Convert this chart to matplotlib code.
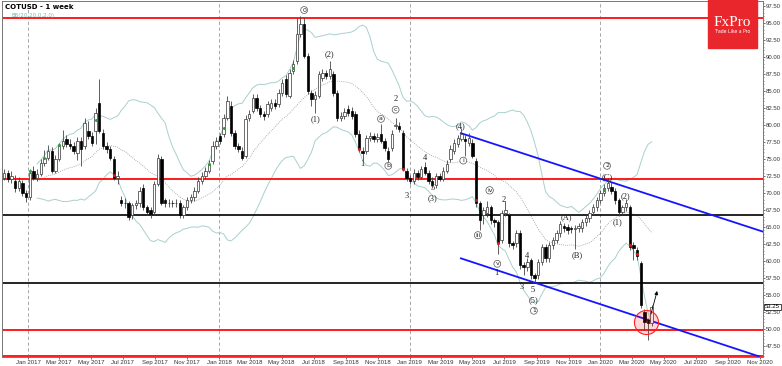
import matplotlib
matplotlib.use("Agg")
import matplotlib.pyplot as plt
import matplotlib.dates as mdates
import matplotlib.transforms as mtransforms
from matplotlib.patches import Rectangle
from matplotlib.ticker import MultipleLocator, FormatStrFormatter
import numpy as np
import pandas as pd

# weekly bars, COTUSD
first_bar = "2016-11-16"

opens = [72.28, 73.01, 72.13, 71.84, 70.67, 71.55, 69.94, 69.35, 73.31, 72.28,
         72.87, 74.48, 75.21, 76.24, 73.31, 75.06, 76.97, 78.00, 77.26, 76.97,
         75.94, 77.71, 76.97, 79.17, 78.44, 79.17, 83.28, 78.88, 76.97, 76.53,
         75.06, 72.28, 68.91, 68.61, 68.47, 66.71, 68.17, 68.47, 70.81, 67.88,
         67.44, 67.15, 71.40, 75.06, 68.91, 68.47, 68.61, 68.47, 68.61, 66.71,
         67.88, 68.91, 69.35, 70.37, 71.84, 72.57, 73.31, 74.77, 76.97, 78.44,
         78.73, 81.08, 82.84, 78.88, 76.97, 76.24, 75.51, 81.08, 82.10, 84.01,
         82.54, 81.66, 81.66, 82.54, 83.28, 83.13, 84.74, 86.80, 84.30, 87.97,
         89.44, 93.39, 94.86, 90.17, 84.74, 83.86, 84.30, 86.94, 87.68, 87.24,
         87.53, 84.74, 81.08, 81.37, 82.40, 82.10, 81.66, 78.73, 76.24, 76.24,
         78.14, 78.44, 78.00, 78.73, 77.71, 76.24, 76.68, 79.90, 79.90, 78.88,
         73.31, 72.28, 71.84, 73.01, 72.43, 73.89, 73.01, 71.84, 71.11, 72.57,
         72.13, 73.31, 75.06, 76.24, 77.26, 78.00, 78.00, 77.41, 77.41, 74.77,
         68.47, 66.71, 67.00, 67.88, 65.97, 65.68, 63.04, 67.00, 66.71, 62.60,
         62.60, 64.07, 59.38, 59.08, 60.11, 57.91, 57.91, 59.82, 62.01, 60.40,
         62.31, 63.04, 64.07, 65.09, 64.95, 64.80, 64.66, 64.80, 64.80, 65.68,
         66.27, 67.15, 67.88, 68.91, 69.94, 70.81, 70.96, 70.37, 68.91, 67.15,
         67.88, 67.88, 62.31, 61.58, 59.67, 52.49, 51.31, 50.87]

highs = [73.5, 73.4, 73.2, 72.6, 72.3, 71.9, 70.4, 73.5, 74.0, 73.6,
         75.0, 76.4, 77.0, 76.8, 75.6, 77.4, 79.2, 78.6, 78.0, 77.5,
         78.2, 78.3, 81.0, 80.6, 79.0, 82.5, 86.8, 79.4, 77.5, 76.9,
         75.5, 73.2, 69.6, 69.2, 68.9, 68.6, 69.0, 70.9, 71.3, 68.3,
         67.9, 71.8, 75.7, 75.5, 69.3, 69.1, 69.0, 69.1, 69.0, 68.3,
         69.4, 69.9, 70.9, 72.3, 73.1, 73.8, 74.9, 77.6, 78.3, 78.9,
         81.6, 84.3, 83.6, 79.3, 77.4, 76.7, 81.5, 82.2, 84.6, 84.5,
         83.0, 82.1, 83.6, 83.8, 83.8, 85.3, 86.8, 87.3, 88.2, 89.6,
         95.7, 96.0, 95.8, 90.6, 85.2, 85.0, 88.0, 88.2, 88.1, 89.4,
         88.0, 85.2, 81.9, 82.5, 82.9, 82.6, 82.1, 79.2, 76.7, 78.6,
         79.0, 78.9, 78.8, 80.2, 78.1, 76.7, 79.2, 81.0, 80.4, 79.3,
         73.7, 72.7, 73.5, 73.4, 74.0, 74.6, 73.4, 72.3, 73.0, 73.0,
         73.8, 74.8, 77.0, 77.9, 78.6, 79.6, 78.5, 78.8, 77.9, 75.2,
         68.9, 68.0, 68.8, 68.3, 66.4, 66.1, 67.5, 68.9, 67.1, 63.0,
         64.5, 64.5, 59.8, 60.5, 60.5, 58.3, 60.3, 62.5, 62.5, 62.8,
         63.5, 64.5, 65.9, 65.6, 65.4, 65.2, 65.3, 65.6, 66.2, 66.7,
         67.5, 68.4, 69.4, 70.4, 71.3, 72.1, 71.6, 70.8, 69.3, 68.3,
         69.1, 68.3, 62.8, 62.0, 60.0, 52.9, 51.7, 53.5]

lows = [71.9, 71.6, 71.5, 70.2, 70.3, 69.5, 68.7, 69.0, 71.9, 71.8,
        72.5, 74.0, 74.9, 72.9, 73.0, 74.7, 76.5, 76.8, 76.5, 75.7,
        74.8, 74.0, 76.5, 78.0, 76.9, 77.2, 78.8, 76.5, 75.9, 74.8,
        71.9, 71.4, 68.1, 67.8, 66.0, 66.2, 67.6, 68.0, 67.5, 66.8,
        66.3, 66.9, 71.0, 68.2, 67.9, 67.9, 68.0, 68.0, 66.3, 66.4,
        67.5, 68.5, 68.9, 70.0, 71.4, 72.1, 72.9, 74.3, 76.5, 77.2,
        78.3, 80.7, 78.4, 76.5, 76.0, 74.8, 75.1, 80.6, 81.7, 82.1,
        81.2, 80.8, 81.2, 82.1, 82.3, 82.7, 84.3, 84.1, 83.9, 87.5,
        89.0, 92.9, 89.8, 84.6, 82.8, 81.7, 83.9, 86.5, 86.8, 86.8,
        84.3, 80.6, 80.6, 80.9, 81.3, 80.9, 78.3, 76.0, 74.8, 75.8,
        77.7, 77.5, 77.5, 77.3, 76.2, 74.6, 76.2, 79.4, 79.0, 73.2,
        71.8, 71.3, 71.4, 71.9, 72.0, 72.6, 71.4, 70.7, 70.7, 71.7,
        71.7, 72.9, 74.6, 75.8, 76.8, 77.6, 75.5, 76.9, 75.1, 68.0,
        64.5, 65.5, 66.5, 65.5, 65.0, 61.0, 62.6, 66.6, 62.1, 61.8,
        62.1, 58.9, 57.9, 58.5, 57.4, 56.9, 57.4, 59.4, 59.9, 59.9,
        61.8, 62.6, 63.6, 64.3, 64.0, 64.2, 61.8, 64.3, 64.3, 65.2,
        65.8, 66.7, 67.4, 68.5, 69.5, 70.3, 69.9, 68.4, 66.6, 66.7,
        67.4, 61.6, 60.1, 60.1, 53.1, 49.8, 48.4, 50.4]

closes = [73.01, 72.13, 72.57, 70.67, 71.84, 69.94, 69.35, 73.01, 72.28, 72.87,
          74.48, 75.21, 76.24, 73.31, 75.06, 76.97, 77.71, 77.26, 76.97, 76.24,
          77.71, 76.53, 80.34, 78.44, 77.41, 81.81, 79.17, 76.97, 76.53, 75.21,
          72.28, 72.57, 68.61, 68.47, 66.41, 68.17, 68.47, 70.37, 67.88, 67.15,
          66.85, 71.40, 75.21, 68.61, 68.47, 68.61, 68.47, 68.61, 66.71, 67.88,
          68.91, 69.35, 70.37, 71.84, 72.57, 73.31, 74.33, 76.97, 77.71, 77.71,
          81.08, 83.57, 78.88, 76.97, 76.53, 75.21, 80.93, 81.66, 84.01, 82.54,
          81.66, 81.37, 83.13, 83.28, 82.84, 84.74, 86.21, 84.60, 87.68, 88.99,
          93.39, 94.86, 90.17, 85.04, 83.86, 84.45, 87.53, 87.68, 87.24, 88.26,
          84.74, 81.08, 81.37, 81.96, 81.81, 81.37, 78.73, 76.53, 75.94, 78.14,
          78.44, 78.00, 78.29, 77.71, 76.68, 75.06, 78.73, 79.95, 79.46, 73.60,
          72.28, 71.84, 73.01, 72.43, 73.60, 73.01, 71.84, 71.11, 72.57, 72.13,
          73.31, 74.33, 76.53, 77.41, 78.14, 78.73, 77.71, 78.14, 75.51, 68.47,
          65.97, 67.44, 67.88, 65.97, 65.68, 62.60, 67.00, 67.44, 62.60, 62.31,
          64.07, 59.38, 59.08, 59.82, 57.91, 57.47, 59.82, 62.01, 60.40, 62.31,
          63.04, 64.07, 65.39, 64.80, 64.51, 64.66, 64.80, 65.09, 65.68, 66.27,
          67.00, 67.88, 68.91, 69.94, 70.81, 71.55, 70.37, 68.91, 67.15, 67.88,
          68.47, 62.01, 61.87, 60.70, 53.51, 51.02, 50.87, 53.25]

red_levels = [95.8, 72.0, 49.85, 46.1]
black_levels = [66.7, 56.75]
upper_channel = (["2019-04-09", "2020-11-08"], [78.8, 64.3])
lower_channel = (["2019-04-09", "2020-10-30"], [60.4, 46.0])

green_bars = [7, 11, 15, 25, 56, 60, 79, 164]
green_prices = [73.2, 75.2, 77.0, 80.8, 74.3, 79.6, 88.4, 70.5]
red_bars = [30, 97, 109, 129, 135, 171, 173]
red_prices = [72.6, 76.5, 73.6, 69.0, 62.6, 62.3, 61.1]

# label, bar position, price, circled
wave_labels = [("0", 82, 96.9, True), ("(1)", 85, 80.9, False), ("(2)", 89, 90.46, False),
               ("1", 98, 74.3, False), ("a", 103, 80.9, True), ("b", 105, 74.0, True),
               ("c", 107, 82.25, True), ("2", 107, 83.8, False), ("3", 110, 69.5, False),
               ("4", 115, 75.2, False), ("5", 117, 70.8, False), ("(3)", 117, 69.2, False),
               ("(4)", 124.8, 79.9, False), ("i", 125.5, 74.77, True), ("iii", 129.5, 63.8, True),
               ("iv", 132.7, 70.4, True), ("v", 134.8, 59.6, True), ("1", 134.6, 58.2, False),
               ("2", 136.6, 69.0, False), ("3", 141.6, 56.2, False), ("4", 142.8, 60.7, False),
               ("5", 144.6, 55.7, False), ("(5)", 144.8, 54.25, False), ("1", 144.8, 52.7, True),
               ("(A)", 153.7, 66.46, False), ("(B)", 156.6, 60.8, False), ("2", 164.8, 74.0, True),
               ("(C)", 164.8, 72.4, False), ("(1)", 167.7, 65.7, False), ("(2)", 169.8, 69.5, False)]

n = len(closes)
t0 = mdates.date2num(pd.Timestamp(first_bar))
def bar_x(i):
    return t0 + 7 * np.asarray(i, dtype=float)

x = bar_x(np.arange(n))
o = np.array(opens); h = np.array(highs); l = np.array(lows); c = np.array(closes)

fig = plt.figure(figsize=(7.82, 3.66), dpi=100)
ax = fig.add_axes([0.002, 1 - 357 / 366, 763 / 782 - 0.002, 356 / 366])

# bollinger bands 20, 2.0
s = pd.Series(c)
mid = s.rolling(20, min_periods=10).mean()
sd = s.rolling(20, min_periods=10).std(ddof=0)
ax.plot(x, mid + 2 * sd, color="#a9cfcf", lw=0.7, zorder=1)
ax.plot(x, mid - 2 * sd, color="#a9cfcf", lw=0.7, zorder=1)
ax.plot(x, mid, color="#8c9a9a", lw=0.6, ls=(0, (1, 1.5)), zorder=1)

# horizontal levels
for lv in red_levels:
    ax.axhline(lv, color="#ff1a1a", lw=1.4, zorder=2)
for lv in black_levels:
    ax.axhline(lv, color="black", lw=1.2, zorder=2)

# year separators
for yr in [2017, 2018, 2019, 2020]:
    ax.axvline(mdates.date2num(pd.Timestamp(f"{yr}-01-01")), color="#999999", lw=0.6,
               ls=(0, (4, 3)), zorder=0)

# channel
for xs, ys in [upper_channel, lower_channel]:
    ax.plot(mdates.date2num(pd.to_datetime(xs)), ys, color="#1515ff", lw=1.3, zorder=3)

# candles
ax.vlines(x, l, h, color="#444444", lw=0.6, zorder=4)
up = c >= o
body_bottom = np.minimum(o, c)
body_h = np.maximum(np.abs(c - o), 0.12)
ax.bar(x[up], body_h[up], bottom=body_bottom[up], width=4.6, color="white",
       edgecolor="#333333", linewidth=0.5, zorder=5)
ax.bar(x[~up], body_h[~up], bottom=body_bottom[~up], width=4.6, color="black",
       edgecolor="black", linewidth=0.5, zorder=5)

ax.scatter(bar_x(green_bars), green_prices, s=5, color="#2e9e3a", zorder=6, linewidths=0)
ax.scatter(bar_x(red_bars), red_prices, s=5, color="#c81e1e", zorder=6, linewidths=0)

# wave counts
for txt, bi, pr, circ in wave_labels:
    if circ:
        ax.text(bar_x(bi), pr, txt, fontsize=4.5, ha="center", va="center", color="#222222",
                family="DejaVu Sans", zorder=7,
                bbox=dict(boxstyle="circle,pad=0.15", fc="white", ec="#555555", lw=0.5))
    else:
        ax.text(bar_x(bi), pr, txt, fontsize=6, ha="center", va="center", color="#222222",
                family="Liberation Serif", zorder=7)

# target arrow and circle
ax.annotate("", xy=(bar_x(178.7), 56.0), xytext=(bar_x(176.6), 51.8),
            arrowprops=dict(arrowstyle="-|>", color="black", lw=0.6, mutation_scale=5), zorder=7)
ax.scatter([bar_x(175.5)], [51.0], s=300, facecolor=(1, 0, 0, 0.15), edgecolor="#ff2020",
           linewidths=0.8, zorder=6)

# axes
ax.set_xlim(mdates.date2num(pd.Timestamp("2016-11-11")), mdates.date2num(pd.Timestamp("2020-11-07")))
ax.set_ylim(45.9, 98.23)
ax.yaxis.tick_right()
ax.yaxis.set_major_locator(MultipleLocator(2.5))
ax.yaxis.set_minor_locator(MultipleLocator(0.5))
ax.yaxis.set_major_formatter(FormatStrFormatter("%.2f"))
ax.xaxis.set_major_locator(mdates.MonthLocator(bymonth=[1, 3, 5, 7, 9, 11]))
ax.xaxis.set_major_formatter(mdates.DateFormatter("%b %Y"))
ax.tick_params(axis="both", labelsize=4.3, colors="#333333", length=1.5, width=0.5, pad=0.6)
ax.tick_params(axis="y", which="minor", length=1.0, width=0.4, colors="#333333")
for lab in ax.get_xticklabels() + ax.get_yticklabels():
    lab.set_family("Liberation Sans")
for sp in ax.spines.values():
    sp.set_color("#777777")
    sp.set_linewidth(0.7)

tr = mtransforms.blended_transform_factory(ax.transAxes, ax.transData)
ax.text(1.003, 53.25, "53.25", transform=tr, fontsize=4.3, va="center", ha="left",
        family="Liberation Sans",
        bbox=dict(boxstyle="square,pad=0.15", fc="white", ec="black", lw=0.5), zorder=8,
        clip_on=False)

ax.text(0.005, 0.992, "COTUSD - 1 week", transform=ax.transAxes, fontsize=5,
        fontweight="bold", va="top", ha="left")
ax.text(0.013, 0.965, "BB(20,20,0,2.0)", transform=ax.transAxes, fontsize=4,
        color="#7fb8b8", va="top", ha="left")

# logo
fig.patches.append(Rectangle((708 / 782, 1 - 48 / 366), 49 / 782, 48 / 366,
                             transform=fig.transFigure, color="#e8262c", zorder=10))
fig.text(732.5 / 782, 1 - 22 / 366, "FxPro", color="white", fontsize=11,
         family="Liberation Serif", ha="center", va="center", zorder=11)
fig.text(732.5 / 782, 1 - 31.5 / 366, "Trade Like a Pro", color="white", fontsize=3.3,
         ha="center", va="center", zorder=11)

fig.savefig("out.png", dpi=100)
